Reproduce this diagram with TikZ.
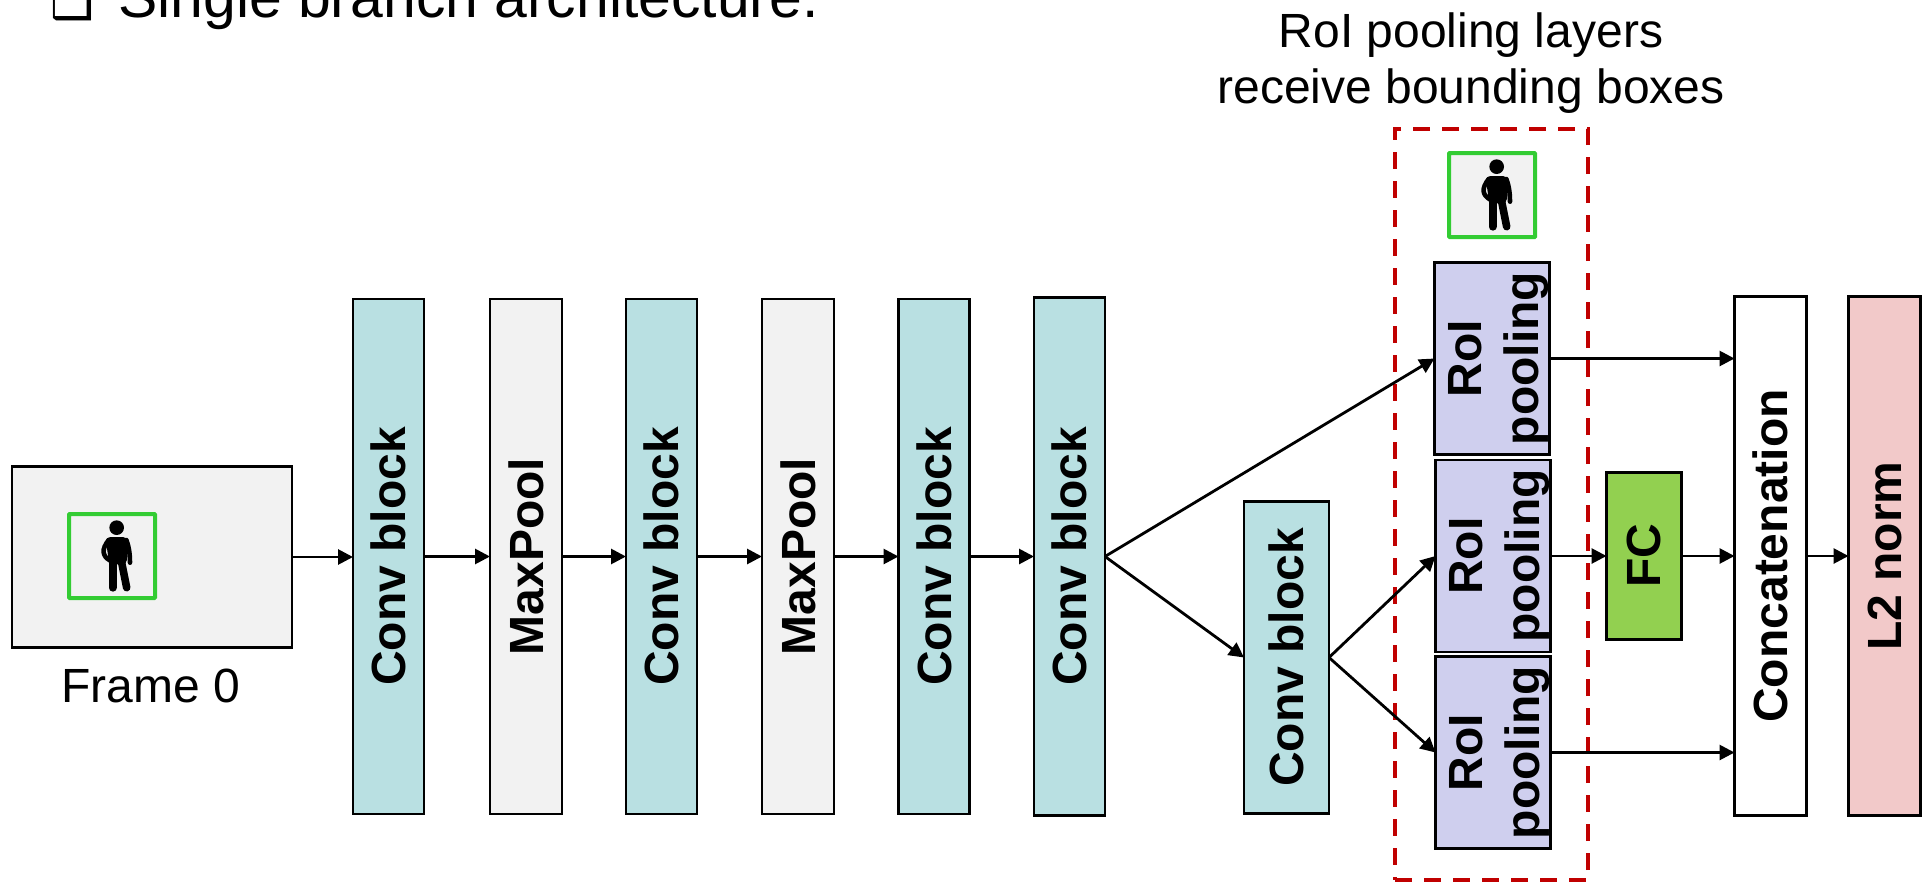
\documentclass[tikz,border=0pt]{standalone}
\usepackage{fontspec}
\setmainfont{Liberation Sans}
\newfontfamily\symfont{DejaVu Sans}
\usetikzlibrary{arrows.meta,calc}
\definecolor{convteal}{HTML}{B9E0E2}
\definecolor{poolgray}{HTML}{F2F2F2}
\definecolor{roiblue}{HTML}{CFCFEE}
\definecolor{fcgreen}{HTML}{92D050}
\definecolor{normpink}{HTML}{F2C9C9}
\definecolor{dashred}{HTML}{C00000}
\definecolor{bboxgreen}{HTML}{33CC33}
\tikzset{
  blockbox/.style={draw=black,line width=2.5pt,inner sep=0pt,outer sep=0pt,font=\fontsize{48}{57}\selectfont\bfseries},
  convbox/.style={blockbox,fill=convteal,minimum width=71pt,minimum height=515pt},
  poolbox/.style={blockbox,fill=poolgray,minimum width=72pt,minimum height=515pt},
  roibox/.style={blockbox,fill=roiblue,minimum width=115pt,minimum height=192pt},
  bbox/.style={draw=bboxgreen,line width=4pt,inner sep=0pt,minimum width=86pt,minimum height=84pt,rounded corners=0.6pt},
  plain/.style={font=\fontsize{48}{56}\selectfont,inner sep=0pt,align=center},
  flow/.style={line width=2.8pt,-{Triangle[length=15pt,width=15pt]},shorten >=0pt},
  personicon/.pic={
    \begin{scope}[scale=0.3333]
      \fill (14,-85) circle (22);
      \fill[rounded corners=5pt] (-20,-57) -- (48,-57) -- (45,25) -- (-8,25) -- cycle;
      \draw[line width=4.6pt,line cap=round] (-10,-48) .. controls (-32,-20) and (-30,0) .. (-5,14);
      \draw[line width=4.6pt,line cap=round] (43,-48) .. controls (52,-25) and (54,0) .. (54,20);
      \draw[line width=8pt,line cap=round] (2,15) -- (2,95);
      \draw[line width=7.6pt,line cap=round] (28,15) -- (44,95);
    \end{scope}
  }
}
\begin{document}
\begin{tikzpicture}[x=1pt,y=-1pt]
\useasboundingbox (0,0) rectangle (1927,883);
% heading (cut by the top edge of the picture)
\node[plain,anchor=base west,font=\fontsize{49}{49}\selectfont\symfont] (bullet) at (50,19) {❑};
\node[plain,anchor=base west,font=\fontsize{58.9}{60}\selectfont] (heading) at (118,18) {Single branch architecture.};
\node[plain,anchor=base] (roititle) at (1471,103.5) {RoI pooling layers\\receive bounding boxes};
% RoI region
\node[draw=dashred,line width=4.5pt,dash pattern=on 17pt off 12pt,inner sep=0pt,minimum width=193pt,minimum height=751pt] (region) at (1491.5,504.5) {};
% frame
\node[draw=black,line width=2.5pt,fill=poolgray,inner sep=0pt,outer sep=0pt,minimum width=280pt,minimum height=181pt] (frame) at (152,557) {};
\node[bbox] (framebox) at (112,556) {};
\pic at (framebox.center) {personicon};
\node[plain,anchor=base] (framelabel) at (151,702) {Frame 0};
% backbone
\node[convbox] (c1) at (388.5,556.5) {\rotatebox{90}{Conv block}};
\node[poolbox] (p1) at (526,556.5) {\rotatebox{90}{MaxPool}};
\node[convbox] (c2) at (661.5,556.5) {\rotatebox{90}{Conv block}};
\node[poolbox] (p2) at (798,556.5) {\rotatebox{90}{MaxPool}};
\node[convbox] (c3) at (934,556.5) {\rotatebox{90}{Conv block}};
\node[convbox,minimum height=518pt] (c4) at (1069.5,556.5) {\rotatebox{90}{Conv block}};
\node[convbox,minimum width=85pt,minimum height=312pt] (c5) at (1286.5,657.5) {\rotatebox{90}{Conv block}};
% RoI
\node[bbox,fill=poolgray] (roibbox) at (1492,195) {};
\pic at (roibbox.center) {personicon};
\node[roibox] (r1) at (1492,358.5) {};
\node[roibox] (r2) at (1493,556) {};
\node[roibox] (r3) at (1493,752.5) {};
\foreach \n in {r1,r2,r3}{
  \node[inner sep=0pt,font=\fontsize{48}{57}\selectfont\bfseries,align=center,rotate=90] (\n text) at ($(\n.center)+(7,0)$) {RoI\\pooling};
}
% outputs
\node[blockbox,fill=fcgreen,minimum width=75pt,minimum height=167pt] (fc) at (1644,556) {\rotatebox{90}{FC}};
\node[blockbox,fill=white,minimum width=72pt,minimum height=519pt] (concat) at (1770.5,556) {\rotatebox{90}{Concatenation}};
\node[blockbox,fill=normpink,minimum width=72pt,minimum height=519pt] (l2) at (1884.5,556) {\rotatebox{90}{L2 norm}};
% connectors
\draw[flow] (frame.east) -- (frame.east -| c1.west);
\draw[flow] (c1.east) -- (p1.west);
\draw[flow] (p1.east) -- (c2.west);
\draw[flow] (c2.east) -- (p2.west);
\draw[flow] (p2.east) -- (c3.west);
\draw[flow] (c3.east) -- (c4.west);
\draw[flow] (c4.east) -- (r1.west);
\draw[flow] (c4.east) -- (c5.west);
\draw[flow] (c5.east) -- (r2.west);
\draw[flow] (c5.east) -- (r3.west);
\draw[flow] (r1.east) -- (r1.east -| concat.west);
\draw[flow] (r2.east) -- (fc.west);
\draw[flow] (fc.east) -- (fc.east -| concat.west);
\draw[flow] (r3.east) -- (r3.east -| concat.west);
\draw[flow] (concat.east) -- (l2.west);
\end{tikzpicture}
\end{document}
